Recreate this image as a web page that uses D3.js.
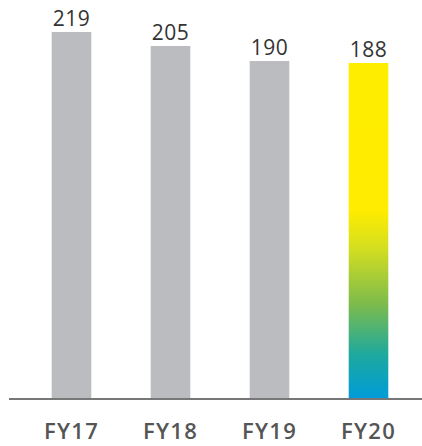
<!DOCTYPE html>
<html>
<head>
<meta charset="utf-8">
<script src="https://cdn.jsdelivr.net/npm/d3@7"></script>
<style>
  html, body { margin: 0; padding: 0; background: #fff; }
  svg { display: block; }
</style>
</head>
<body>
<svg id="chart" width="422" height="446"></svg>
<script>
// Fiscal years and their values
const years = ["FY17", "FY18", "FY19", "FY20"];
const values = [219, 205, 190, 188];
const highlightYear = "FY20";

// Colour stops for the highlighted bar, bottom to top
const gradientOffsets = [0, 0.13, 0.28, 0.45, 0.56, 1];
const gradientColors = ["#009cd8", "#1ea99e", "#7dbb4c", "#d5df20", "#ffec00", "#ffed00"];

const svg = d3.select("#chart");

const baseline = 398;
const x = d3.scaleBand()
  .domain(years)
  .range([22, 418])
  .paddingInner(0.6)
  .paddingOuter(0.3);

// Value axis starts below zero so differences read clearly
const y = d3.scaleLinear()
  .domain([-147, 219])
  .range([baseline, 32]);

const defs = svg.append("defs");
const grad = defs.append("linearGradient")
  .attr("id", "fy20grad")
  .attr("x1", 0).attr("y1", 1)
  .attr("x2", 0).attr("y2", 0);
grad.selectAll("stop")
  .data(gradientOffsets)
  .join("stop")
  .attr("offset", d => d)
  .attr("stop-color", (d, i) => gradientColors[i]);

const data = years.map((yr, i) => ({ year: yr, value: values[i] }));

svg.append("g")
  .selectAll("rect")
  .data(data)
  .join("rect")
  .attr("x", d => x(d.year))
  .attr("width", x.bandwidth())
  .attr("y", d => y(d.value))
  .attr("height", d => baseline - y(d.value))
  .attr("fill", d => d.year === highlightYear ? "url(#fy20grad)" : "#bbbcbf");

// Value labels above bars
svg.append("g")
  .selectAll("text")
  .data(data)
  .join("text")
  .attr("x", d => x(d.year) + x.bandwidth() / 2)
  .attr("y", d => y(d.value) - 6)
  .attr("text-anchor", "middle")
  .attr("font-family", "'Open Sans', sans-serif")
  .attr("font-size", 21)
  .attr("letter-spacing", 0.5)
  .attr("fill", "#333")
  .text(d => d.value);

// Baseline axis
const axis = svg.append("g")
  .attr("transform", `translate(0,${baseline + 1})`)
  .call(d3.axisBottom(x).tickSize(0).tickPadding(24));
axis.select(".domain")
  .attr("d", "M9,0H422")
  .attr("stroke", "#777")
  .attr("stroke-width", 2);
axis.selectAll("text")
  .attr("font-family", "'Open Sans', sans-serif")
  .attr("font-size", 22)
  .attr("font-weight", 600)
  .attr("letter-spacing", 1.3)
  .attr("fill", "#555");
</script>
</body>
</html>
